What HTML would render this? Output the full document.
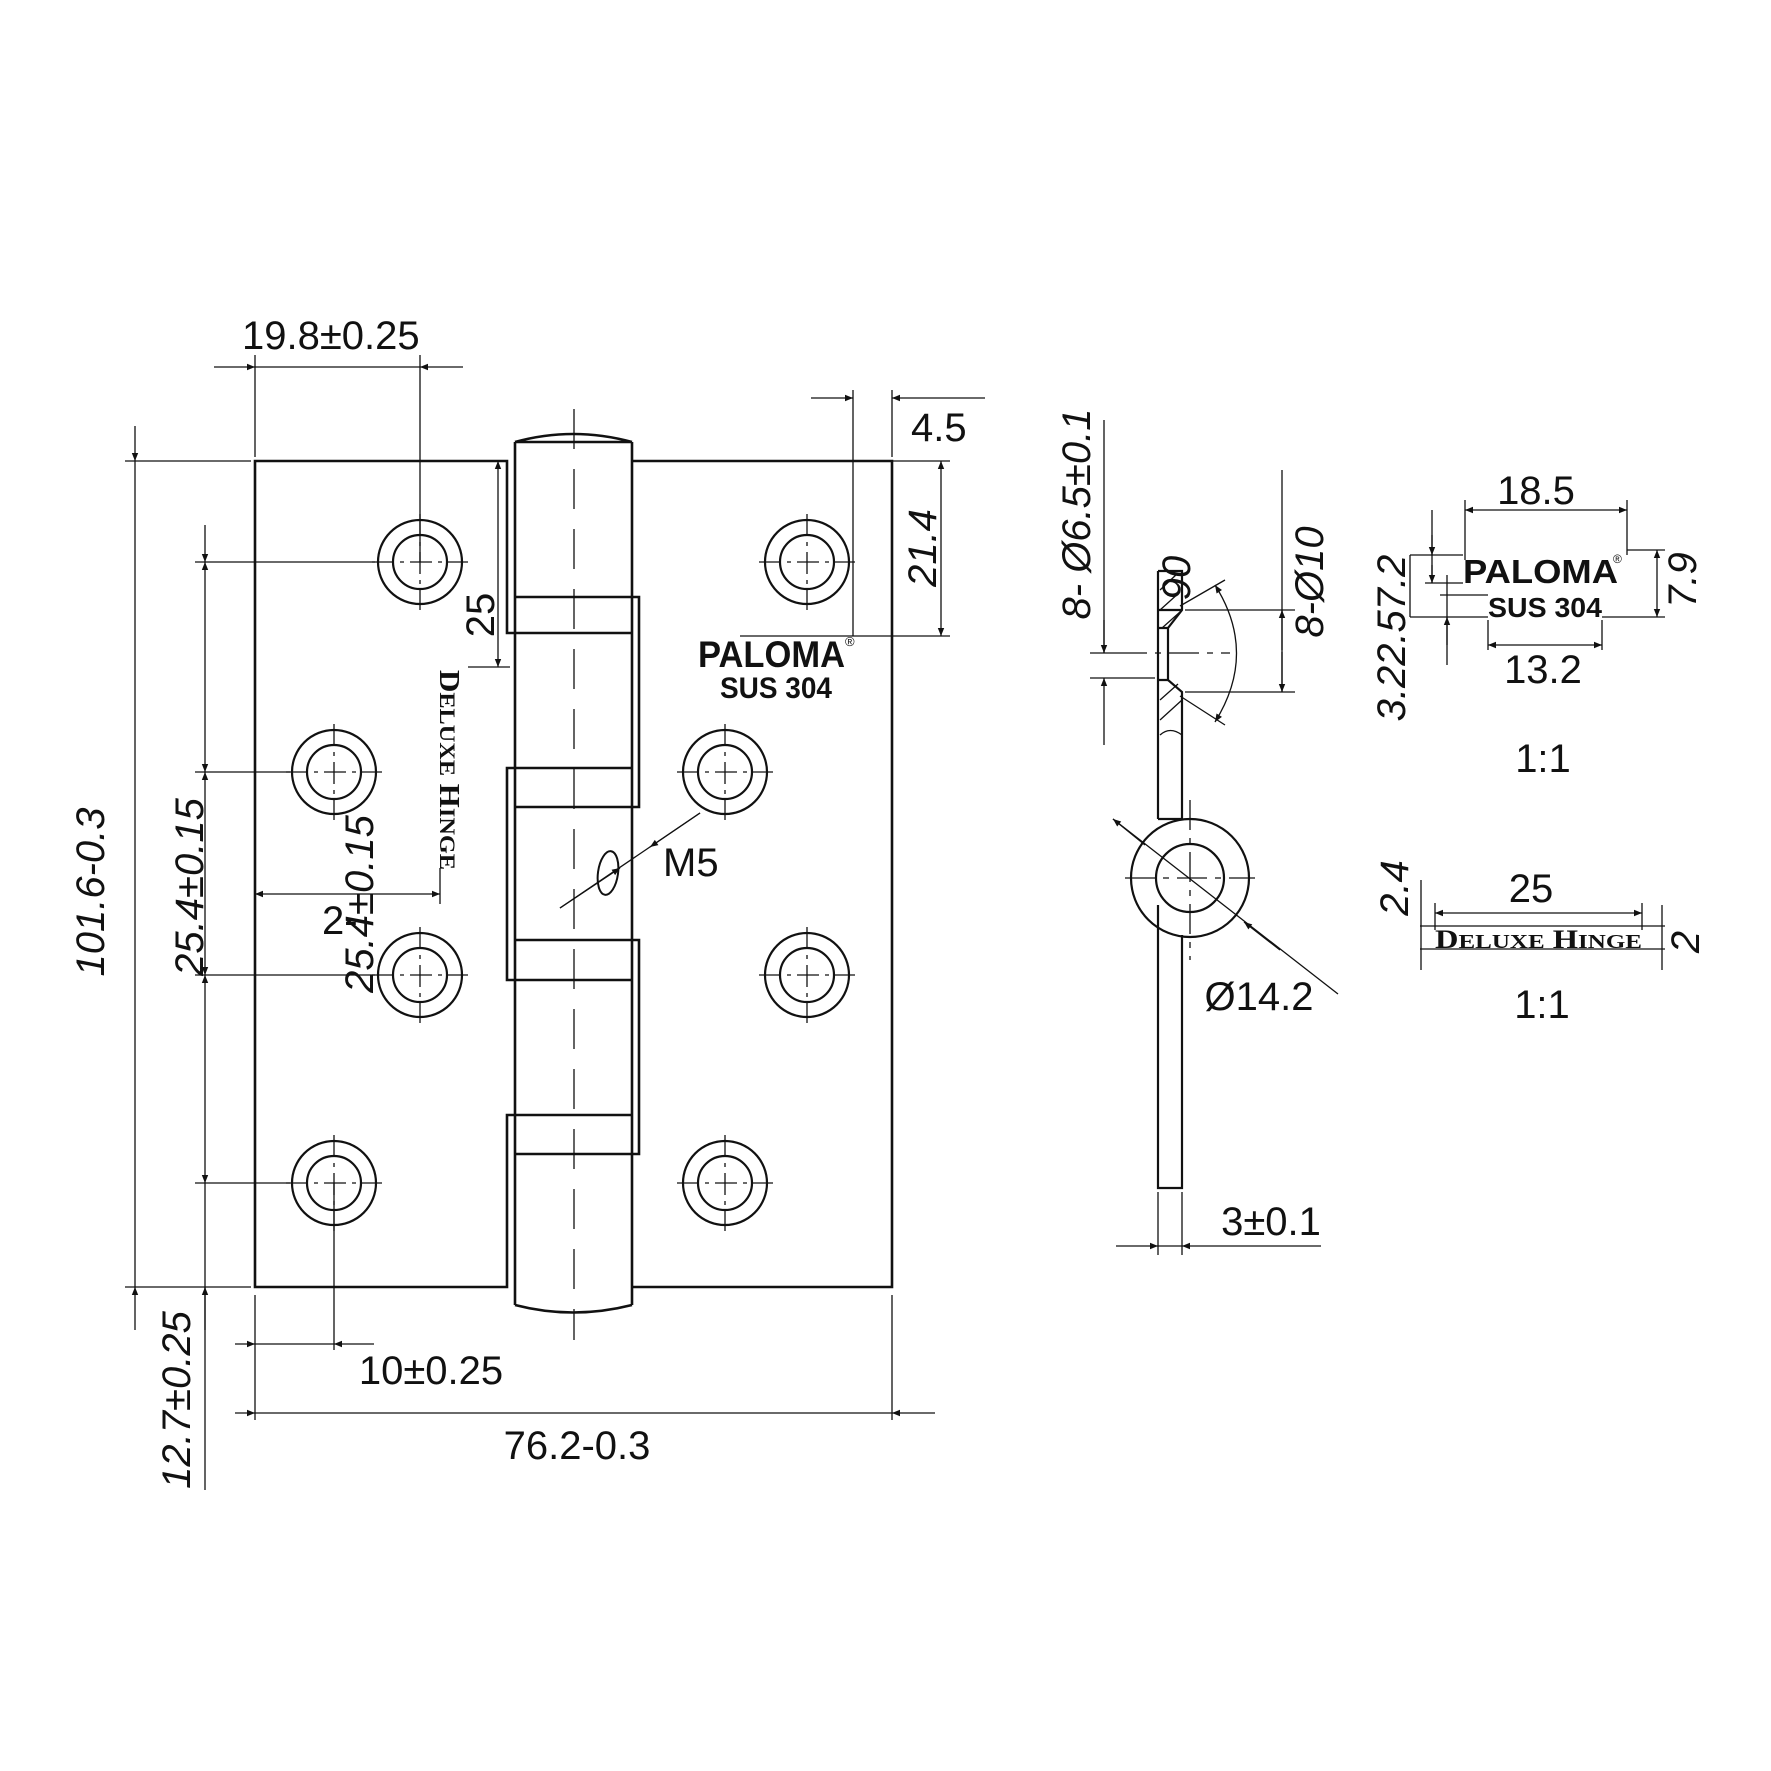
<!DOCTYPE html>
<html><head><meta charset="utf-8"><style>
html,body{margin:0;padding:0;background:#fff}
svg{display:block}
text{font-family:"Liberation Sans",sans-serif;fill:#111}
.t{font-size:40px}
.i{font-style:italic}
</style></head><body>
<svg width="1771" height="1771" xmlns="http://www.w3.org/2000/svg">
<defs>
<marker id="a" viewBox="0 0 10 10" refX="10" refY="5" markerWidth="14" markerHeight="8" markerUnits="userSpaceOnUse" orient="auto-start-reverse"><path d="M0,1 L10,5 L0,9z" fill="#111"/></marker>
</defs>
<g stroke="#111" fill="none" stroke-width="1.3">
<g stroke-width="2.6">
<path d="M515,633 H507 V461 H255 V1287 H507 V1115 H515"/>
<path d="M515,768 H507 V980 H515"/>
<path d="M632,461 H892 V1287 H632"/>
<path d="M632,597 H639 V807 H632"/>
<path d="M632,940 H639 V1154 H632"/>
<path d="M515,442 V1305 M632,442 V1305"/>
<path d="M515,442 Q573,426 632,442 M515,442 H632"/>
<path d="M515,1305 Q573,1320 632,1305"/>
<path d="M515,597 H632 M515,633 H632 M515,768 H632 M515,807 H632 M515,940 H632 M515,980 H632 M515,1115 H632 M515,1154 H632"/>
</g>
<path d="M574,409 V1340" stroke-dasharray="40,20"/>
<g stroke-width="2.2">
<circle cx="420" cy="562" r="42"/><circle cx="420" cy="562" r="27"/>
<circle cx="334" cy="772" r="42"/><circle cx="334" cy="772" r="27"/>
<circle cx="420" cy="975" r="42"/><circle cx="420" cy="975" r="27"/>
<circle cx="334" cy="1183" r="42"/><circle cx="334" cy="1183" r="27"/>
<circle cx="807" cy="562" r="42"/><circle cx="807" cy="562" r="27"/>
<circle cx="725" cy="772" r="42"/><circle cx="725" cy="772" r="27"/>
<circle cx="807" cy="975" r="42"/><circle cx="807" cy="975" r="27"/>
<circle cx="725" cy="1183" r="42"/><circle cx="725" cy="1183" r="27"/>
</g>
<g stroke-dasharray="22,6,4,6">
<path d="M420,514 V610 M372,562 H468 M334,724 V820 M286,772 H382 M420,927 V1023 M372,975 H468 M334,1135 V1231 M286,1183 H382"/>
<path d="M807,514 V610 M759,562 H855 M725,724 V820 M677,772 H773 M807,927 V1023 M759,975 H855 M725,1135 V1231 M677,1183 H773"/>
</g>
<path d="M195,562 H375 M195,772 H290 M195,975 H375 M195,1183 H290"/>
<path d="M420,355 V562 M334,1183 V1350 M255,355 V457 M255,1295 V1420 M892,1295 V1420"/>
<path d="M125,461 H251 M125,1287 H251"/>
<path d="M214,367 H255" marker-end="url(#a)"/><path d="M463,367 H420" marker-end="url(#a)"/><path d="M255,367 H420"/>
<path d="M135,426 V461" marker-end="url(#a)"/><path d="M135,461 V1287"/><path d="M135,1330 V1287" marker-end="url(#a)"/>
<path d="M205,525 V562" marker-end="url(#a)"/>
<path d="M205,562 V772" marker-start="url(#a)" marker-end="url(#a)"/>
<path d="M205,772 V975" marker-start="url(#a)" marker-end="url(#a)"/>
<path d="M205,975 V1183" marker-start="url(#a)" marker-end="url(#a)"/>
<path d="M205,1183 V1287"/><path d="M205,1330 V1287" marker-end="url(#a)"/><path d="M205,1287 V1490"/>
<path d="M498,461 V667" marker-start="url(#a)" marker-end="url(#a)"/><path d="M468,667 H510"/>
<path d="M255,894 H440" marker-start="url(#a)" marker-end="url(#a)"/><path d="M440,868 V904"/>
<path d="M235,1344 H255" marker-end="url(#a)"/><path d="M255,1344 H334"/><path d="M374,1344 H334" marker-end="url(#a)"/>
<path d="M235,1413 H255" marker-end="url(#a)"/><path d="M255,1413 H892"/><path d="M935,1413 H892" marker-end="url(#a)"/>
<path d="M853,390 V636 H740 M892,390 V457 M853,636 H950 M892,461 H950"/>
<path d="M811,398 H853" marker-end="url(#a)"/><path d="M985,398 H892" marker-end="url(#a)"/>
<path d="M941,461 V636" marker-start="url(#a)" marker-end="url(#a)"/>
<ellipse cx="608" cy="873" rx="10" ry="22" transform="rotate(8 608 873)" stroke-width="2"/>
<path d="M560,908 L620,868" marker-end="url(#a)"/><path d="M700,813 L650,847" marker-end="url(#a)"/><path d="M560,908 L700,813"/>

<!-- side view -->
<g stroke-width="2.2">
<path d="M1158,571 H1182 V610 L1168,628 V680 L1182,692 V819 M1158,571 V819 M1158,819 H1182"/>
<path d="M1168,628 H1158 M1168,680 H1158 M1158,610 H1182"/>
<path d="M1158,905 V1188 H1182 V935"/>
<circle cx="1190" cy="878" r="59"/><circle cx="1190" cy="878" r="34"/>
</g>
<path d="M1160,590 L1178,573 M1160,610 L1180,592 M1162,628 L1180,612 M1160,700 L1178,684 M1160,720 L1182,700 M1160,735 Q1170,726 1182,735"/>
<path d="M1117,653 H1230" stroke-dasharray="30,8,6,8"/>
<path d="M1190,800 V960 M1125,878 H1255" stroke-dasharray="30,8,6,8"/>
<path d="M1104,420 V653"/><path d="M1104,620 V653" marker-end="url(#a)"/><path d="M1104,745 V678" marker-end="url(#a)"/>
<path d="M1090,678 H1155 M1090,653 H1117"/>
<path d="M1282,470 V692"/><path d="M1282,650 V610" marker-end="url(#a)"/><path d="M1282,652 V692" marker-end="url(#a)"/>
<path d="M1185,610 H1295 M1185,692 H1295"/>
<path d="M1180,606 L1225,580 M1180,696 L1225,725"/>
<path d="M1215,585 Q1258,653 1215,722" marker-start="url(#a)" marker-end="url(#a)"/>
<path d="M1113,819 L1338,994"/><path d="M1113,819 L1145,845" marker-start="url(#a)"/><path d="M1280,950 L1244,922" marker-end="url(#a)"/>
<path d="M1158,1192 V1255 M1182,1192 V1255"/>
<path d="M1116,1246 H1158" marker-end="url(#a)"/><path d="M1158,1246 H1182"/><path d="M1321,1246 H1182" marker-end="url(#a)"/>

<!-- paloma detail -->
<path d="M1465,500 V560 M1627,500 V555"/>
<path d="M1465,510 H1627" marker-start="url(#a)" marker-end="url(#a)"/>
<path d="M1627,550 H1665 M1602,617 H1665"/>
<path d="M1657,550 V617" marker-start="url(#a)" marker-end="url(#a)"/>
<path d="M1488,620 V650 M1602,620 V650"/>
<path d="M1488,645 H1602" marker-start="url(#a)" marker-end="url(#a)"/>
<path d="M1410,555 H1463 M1425,583 H1463 M1440,595 H1488 M1410,617 H1488"/>
<path d="M1432,510 V583"/><path d="M1432,535 V555" marker-end="url(#a)"/><path d="M1432,565 V583" marker-end="url(#a)"/>
<path d="M1447,575 V665"/><path d="M1447,645 V617" marker-end="url(#a)"/>
<path d="M1410,555 V617"/>
<!-- deluxe detail -->
<path d="M1435,913 H1642" marker-start="url(#a)" marker-end="url(#a)"/>
<path d="M1435,903 V930 M1642,903 V930"/>
<path d="M1420,926 H1665 M1420,949 H1665"/>
<path d="M1421,880 V970 M1662,905 V970"/>
</g>

<text class="t" x="242" y="349">19.8±0.25</text>
<text class="t" x="911" y="441">4.5</text>
<text class="t i" transform="translate(936,548) rotate(-90)" text-anchor="middle">21.4</text>
<text class="t" transform="translate(494,615) rotate(-90)" text-anchor="middle">25</text>
<text class="t" x="663" y="876">M5</text>
<text class="t i" transform="translate(104,892) rotate(-90)" text-anchor="middle">101.6-0.3</text>
<text class="t i" transform="translate(203,887) rotate(-90)" text-anchor="middle">25.4±0.15</text>
<text class="t" x="322" y="934">2-</text>
<text class="t i" transform="translate(373,904) rotate(-90)" text-anchor="middle">25.4±0.15</text>
<text class="t i" transform="translate(190,1400) rotate(-90)" text-anchor="middle">12.7±0.25</text>
<text class="t" x="431" y="1384" text-anchor="middle">10±0.25</text>
<text class="t" x="577" y="1459" text-anchor="middle">76.2-0.3</text>
<text style="font-size:37px;font-weight:bold" x="698" y="667" textLength="147" lengthAdjust="spacingAndGlyphs">PALOMA</text>
<text style="font-size:13px" x="845" y="646">®</text>
<text style="font-size:30px;font-weight:bold" x="720" y="698" textLength="112" lengthAdjust="spacingAndGlyphs">SUS 304</text>
<text style="font-family:'Liberation Serif',serif;font-weight:bold;font-size:28px" transform="translate(440,670) rotate(90)" textLength="200" lengthAdjust="spacingAndGlyphs">D<tspan font-size="22">ELUXE</tspan> H<tspan font-size="22">INGE</tspan></text>

<text class="t i" transform="translate(1090,514) rotate(-90)" text-anchor="middle">8- Ø6.5±0.1</text>
<text class="t i" transform="translate(1190,578) rotate(-90)" text-anchor="middle">90</text>
<text class="t i" transform="translate(1323,582) rotate(-90)" text-anchor="middle">8-Ø10</text>
<text class="t" x="1259" y="1010" text-anchor="middle">Ø14.2</text>
<text class="t" x="1271" y="1235" text-anchor="middle">3±0.1</text>

<text class="t" x="1536" y="504" text-anchor="middle">18.5</text>
<text style="font-size:33px;font-weight:bold" x="1463" y="583" textLength="155" lengthAdjust="spacingAndGlyphs">PALOMA</text>
<text style="font-size:12px" x="1613" y="563">®</text>
<text style="font-size:28px;font-weight:bold" x="1488" y="617" textLength="114" lengthAdjust="spacingAndGlyphs">SUS 304</text>
<text class="t i" transform="translate(1696,580) rotate(-90)" text-anchor="middle">7.9</text>
<text class="t" x="1543" y="683" text-anchor="middle">13.2</text>
<text class="t i" transform="translate(1405,638) rotate(-90)" text-anchor="middle">3.22.57.2</text>
<text class="t" x="1543" y="772" text-anchor="middle">1:1</text>
<text class="t" x="1531" y="902" text-anchor="middle">25</text>
<text style="font-family:'Liberation Serif',serif;font-weight:bold;font-size:26px" x="1435" y="948" textLength="207" lengthAdjust="spacingAndGlyphs">D<tspan font-size="20">ELUXE</tspan> H<tspan font-size="20">INGE</tspan></text>
<text class="t i" transform="translate(1408,888) rotate(-90)" text-anchor="middle">2.4</text>
<text class="t i" transform="translate(1699,942) rotate(-90)" text-anchor="middle">2</text>
<text class="t" x="1542" y="1018" text-anchor="middle">1:1</text>
</svg>
</body></html>
